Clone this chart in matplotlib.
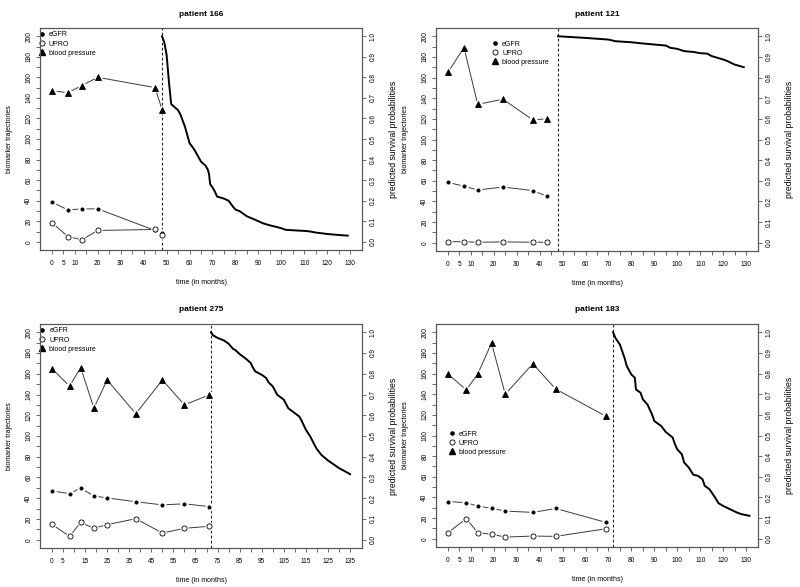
import matplotlib
matplotlib.use("Agg")
import matplotlib.pyplot as plt
import numpy as np

plt.rcParams['font.family'] = ['Liberation Sans', 'DejaVu Sans']

# ---------------- data ----------------
titles = ["patient 166", "patient 121", "patient 275", "patient 183"]

# patient 166
p166_t = [0, 7, 13, 20, 45, 48]
p166_egfr = [38.5, 31, 32, 32, 11, 9]
p166_upro = [18.5, 5, 2, 11, 12, 7]
p166_bp = [147, 145, 152, 160, 150, 128.5]
p166_landmark = 48
p166_surv_t = [48, 49, 50, 51, 52, 55, 56, 57, 58, 59, 60, 62, 63, 65, 67, 68, 68.5, 69, 70, 71, 72,
               75, 77, 78, 79, 80, 82, 85, 88, 90, 92, 95, 98, 100, 102, 105, 110, 112, 115, 120, 125, 129]
p166_surv = [1.0, 0.97, 0.91, 0.78, 0.67, 0.64, 0.62, 0.59, 0.56, 0.52, 0.48, 0.45, 0.43, 0.39, 0.37, 0.35,
             0.33, 0.28, 0.265, 0.245, 0.22, 0.21, 0.2, 0.185, 0.17, 0.157, 0.148, 0.124, 0.11, 0.10, 0.09,
             0.08, 0.072, 0.066, 0.058, 0.056, 0.053, 0.051, 0.045, 0.038, 0.033, 0.03]

# patient 121
p121_t = [0, 7, 13, 24, 37, 43]
p121_egfr = [58.5, 54.7, 51.1, 54, 50.5, 45.3]
p121_upro = [1, 1, 0.5, 0.8, 0.5, 0.5]
p121_bp = [165, 189, 134, 139, 119, 120]
p121_landmark = 48
p121_surv_t = [48, 60, 70, 73, 80, 85, 90, 95, 97, 100, 103, 107, 110, 113, 115, 118, 121, 125, 129]
p121_surv = [1.0, 0.992, 0.984, 0.976, 0.971, 0.965, 0.96, 0.955, 0.944, 0.939, 0.928, 0.924, 0.918,
             0.916, 0.904, 0.894, 0.884, 0.863, 0.85]

# patient 275
p275_t = [0, 8, 13, 19, 25, 38, 50, 60, 71]
p275_egfr = [47, 44.5, 49.8, 42.2, 40.3, 36.6, 33.6, 34.6, 32]
p275_upro = [14.8, 3.2, 16.7, 11, 14.5, 20.3, 6.4, 11, 12.9]
p275_bp = [165, 148, 166, 127, 154, 121.5, 154, 130, 139.5]
p275_landmark = 72
p275_surv_t = [72, 73, 75, 78, 80, 82, 83, 85, 88, 90, 91, 92, 95, 97, 98, 100, 102, 105, 107, 110,
               112, 113, 115, 117, 119, 120, 122, 125, 128, 130, 133, 135]
p275_surv = [1.0, 0.985, 0.973, 0.96, 0.945, 0.92, 0.915, 0.895, 0.871, 0.852, 0.83, 0.812, 0.795,
             0.78, 0.76, 0.739, 0.699, 0.675, 0.634, 0.61, 0.594, 0.575, 0.53, 0.497, 0.455, 0.436,
             0.409, 0.382, 0.36, 0.345, 0.328, 0.316]

# patient 183
p183_t = [0, 8, 13, 19, 25, 37, 47, 69]
p183_egfr = [36, 35, 31.5, 29.6, 26.8, 25.5, 29.3, 15.8]
p183_upro = [5.8, 19.6, 5.8, 4.4, 1.6, 2.6, 2.3, 9.7]
p183_bp = [159.5, 144.3, 159.5, 189.5, 140, 169.5, 145, 118.5]
p183_landmark = 72
p183_surv_t = [72, 73, 75, 77, 78, 80, 81.5, 82, 84, 85, 87, 89, 90, 93, 95, 98, 99, 100, 102, 103,
               105, 107, 109, 111, 112, 114, 116, 118, 120, 123, 126, 128, 131.5]
p183_surv = [1.0, 0.973, 0.94, 0.876, 0.836, 0.795, 0.78, 0.723, 0.707, 0.675, 0.65, 0.602, 0.57,
             0.546, 0.517, 0.49, 0.457, 0.433, 0.409, 0.369, 0.345, 0.31, 0.305, 0.288, 0.256, 0.24,
             0.208, 0.172, 0.159, 0.143, 0.127, 0.119, 0.111]

xlabels_a = {0: "0", 5: "5", 10: "10", 20: "20", 30: "30", 40: "40", 50: "50", 60: "60", 70: "70",
             80: "80", 90: "90", 100: "100", 110: "110", 120: "120", 130: "130"}
xlabels_b = {0: "0", 5: "5", 15: "15", 25: "25", 35: "35", 45: "45", 55: "55", 65: "65", 75: "75",
             85: "85", 95: "95", 105: "105", 115: "115", 125: "125", 135: "135"}

legend_labels = ["eGFR", "UPRO", "blood pressure"]

panels = [
    dict(title=titles[0], t=p166_t, egfr=p166_egfr, upro=p166_upro, bp=p166_bp, lm=p166_landmark,
         st=p166_surv_t, s=p166_surv, xl=xlabels_a, xmax=130, xlim=(-5.2, 135.2),
         box=(40, 28, 362, 250), leg=(-6.5, 206)),
    dict(title=titles[1], t=p121_t, egfr=p121_egfr, upro=p121_upro, bp=p121_bp, lm=p121_landmark,
         st=p121_surv_t, s=p121_surv, xl=xlabels_a, xmax=130, xlim=(-5.2, 135.2),
         box=(436, 28, 758, 251), leg=(18.5, 197)),
    dict(title=titles[2], t=p275_t, egfr=p275_egfr, upro=p275_upro, bp=p275_bp, lm=p275_landmark,
         st=p275_surv_t, s=p275_surv, xl=xlabels_b, xmax=135, xlim=(-5.4, 140.4),
         box=(40, 324, 362, 548), leg=(-6.5, 206)),
    dict(title=titles[3], t=p183_t, egfr=p183_egfr, upro=p183_upro, bp=p183_bp, lm=p183_landmark,
         st=p183_surv_t, s=p183_surv, xl=xlabels_a, xmax=130, xlim=(-5.2, 135.2),
         box=(436, 324, 758, 547), leg=(-0.5, 106)),
]

W, H = 800, 587
fig = plt.figure(figsize=(W / 100, H / 100), dpi=100)

LINE_C = "#3a3a3a"
FRAME_C = "#555555"
TICK_FS = 4.7
LAB_FS = 5.0

for p in panels:
    x0, y0, x1, y1 = p["box"]
    ax = fig.add_axes([x0 / W, 1 - y1 / H, (x1 - x0) / W, (y1 - y0) / H])
    ax.set_xlim(*p["xlim"])
    ax.set_ylim(-8, 208)

    for vals, mk, ms, mfc in [(p["egfr"], "o", 2.3, "black"),
                              (p["upro"], "o", 3.7, "white"),
                              (p["bp"], "^", 3.7, "black")]:
        ax.plot(p["t"], vals, "-", color=LINE_C, lw=0.7, zorder=2)
        ax.plot(p["t"], vals, "o", ms=6, color="white", mec="none", zorder=3)
        ax.plot(p["t"], vals, mk, ms=ms, mfc=mfc, mec="black", mew=0.6, ls="none", zorder=4)

    ax.axvline(p["lm"], color="#222222", lw=0.8, ls=(0, (2.5, 2)), zorder=1)

    ax.set_xticks(np.arange(0, p["xmax"] + 1, 5))
    ax.set_xticklabels([p["xl"].get(int(v), "") for v in np.arange(0, p["xmax"] + 1, 5)])
    ax.set_yticks(np.arange(0, 201, 10))
    ax.set_yticklabels([str(v) if v % 20 == 0 else "" for v in range(0, 201, 10)],
                       rotation=90, va="center")
    ax.tick_params(axis="both", labelsize=TICK_FS, length=3, width=0.6, color=FRAME_C, pad=2.5)
    ax.tick_params(axis="x", pad=4)
    for sp in ax.spines.values():
        sp.set_color(FRAME_C)
        sp.set_linewidth(0.8)
    ax.set_xlabel("time (in months)", fontsize=LAB_FS, labelpad=9)
    ax.set_ylabel("biomarker trajectories", fontsize=LAB_FS, labelpad=9)
    ax.set_title(p["title"], fontsize=6, fontweight="bold", pad=9)

    # legend (no frame)
    lx, ly = p["leg"]
    h1, = ax.plot([], [], "o", ms=2.3, mfc="black", mec="black")
    h2, = ax.plot([], [], "o", ms=3.7, mfc="white", mec="black", mew=0.6)
    h3, = ax.plot([], [], "^", ms=3.7, mfc="black", mec="black")
    ax.legend([h1, h2, h3], legend_labels, loc="upper left", bbox_to_anchor=(lx, ly),
              bbox_transform=ax.transData, frameon=False, fontsize=5, handlelength=1.0,
              handletextpad=0.5, labelspacing=0.3, borderpad=0.2, borderaxespad=0)

    ax2 = ax.twinx()
    ax2.set_ylim(-0.04, 1.04)
    ax2.plot(p["st"], p["s"], "-", color="black", lw=1.4, zorder=5)
    ax2.set_yticks(np.round(np.arange(0, 1.01, 0.1), 1))
    ax2.set_yticklabels(["%.1f" % v for v in np.arange(0, 1.01, 0.1)], rotation=90, va="center")
    ax2.tick_params(axis="y", labelsize=TICK_FS, length=3, width=0.6, color=FRAME_C, pad=2.5)
    for sp in ax2.spines.values():
        sp.set_color(FRAME_C)
        sp.set_linewidth(0.8)
    ax2.set_ylabel("predicted survival probabilities", fontsize=6.2, labelpad=9)

fig.savefig("out.png", dpi=100)
